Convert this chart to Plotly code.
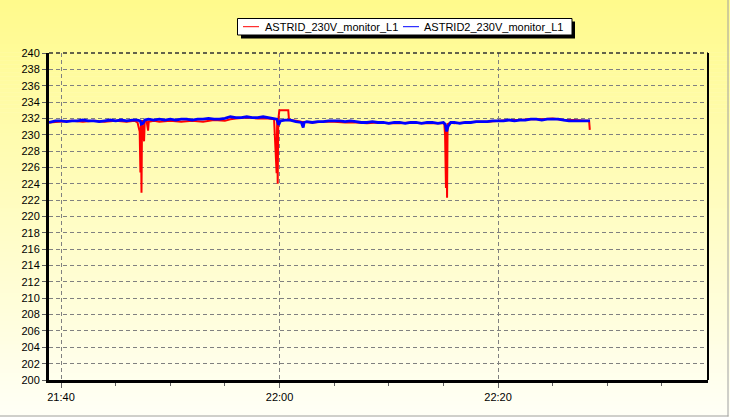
import plotly.graph_objects as go

DATE = "2013-05-10 "

# ASTRID_230V_monitor_L1 (red)
red_times = ["21:38:54", "21:40:00", "21:41:00", "21:42:00", "21:43:00", "21:44:00", "21:45:00", "21:46:00",
             "21:46:45", "21:47:00", "21:47:08", "21:47:12", "21:47:16", "21:47:19", "21:47:22", "21:47:25",
             "21:47:36", "21:47:40", "21:47:50", "21:47:58", "21:48:02", "21:48:30", "21:49:00", "21:50:00",
             "21:51:00", "21:52:00", "21:53:00", "21:54:00", "21:55:00", "21:55:30", "21:56:00", "21:57:00",
             "21:58:00", "21:59:00", "21:59:30", "21:59:44", "21:59:47", "21:59:50", "21:59:53", "21:59:59",
             "22:00:48", "22:00:52", "22:01:30", "22:02:00", "22:03:00", "22:04:00", "22:05:00", "22:06:00",
             "22:07:00", "22:08:00", "22:09:00", "22:10:00", "22:11:00", "22:12:00", "22:13:00", "22:14:00",
             "22:15:00", "22:15:05", "22:15:09", "22:15:14", "22:15:17", "22:15:20", "22:15:23", "22:15:40",
             "22:16:00", "22:17:00", "22:18:00", "22:19:00", "22:20:00", "22:21:00", "22:22:00", "22:23:00",
             "22:24:00", "22:25:00", "22:26:00", "22:27:00", "22:28:00", "22:28:20", "22:28:24"]
red_values = [231.5, 231.6, 231.7, 231.6, 231.7, 231.6, 231.7, 231.6,
              231.7, 231.5, 230.7, 230.4, 225.4, 231.2, 222.9, 231.8,
              229.2, 231.7, 231.7, 230.5, 231.6, 231.7, 231.6, 231.7,
              231.6, 231.7, 231.6, 231.8, 231.7, 231.9, 232.0, 232.1,
              232.0, 232.0, 231.9, 225.3, 231.9, 224.0, 231.8, 233.0,
              233.0, 231.8, 231.7, 231.6, 231.5, 231.6, 231.6, 231.5,
              231.5, 231.4, 231.5, 231.4, 231.4, 231.5, 231.4, 231.4,
              231.4, 231.3, 230.0, 223.5, 231.0, 222.3, 231.3, 231.5,
              231.4, 231.5, 231.6, 231.6, 231.7, 231.8, 231.8, 231.9,
              231.9, 232.0, 231.8, 231.8, 231.7, 231.7, 230.6]

# ASTRID2_230V_monitor_L1 (blue)
blue_times = ["21:38:54", "21:39:15", "21:39:30", "21:40:00", "21:40:30", "21:41:00", "21:41:30", "21:42:00",
              "21:42:30", "21:43:00", "21:43:30", "21:44:00", "21:44:30", "21:45:00", "21:45:30", "21:46:00",
              "21:46:30", "21:47:00", "21:47:15", "21:47:20", "21:47:30", "21:47:40", "21:48:00", "21:48:30",
              "21:49:00", "21:49:30", "21:50:00", "21:50:30", "21:51:00", "21:51:30", "21:52:00", "21:52:30",
              "21:53:00", "21:53:30", "21:54:00", "21:54:30", "21:55:00", "21:55:30", "21:56:00", "21:56:30",
              "21:57:00", "21:57:30", "21:58:00", "21:58:30", "21:59:00", "21:59:30", "21:59:45", "21:59:55",
              "22:00:05", "22:00:30", "22:01:00", "22:01:30", "22:02:00", "22:02:10", "22:02:15", "22:02:30",
              "22:03:00", "22:03:30", "22:04:00", "22:04:30", "22:05:00", "22:05:30", "22:06:00", "22:06:30",
              "22:07:00", "22:07:30", "22:08:00", "22:08:30", "22:09:00", "22:09:30", "22:10:00", "22:10:30",
              "22:11:00", "22:11:30", "22:12:00", "22:12:30", "22:13:00", "22:13:30", "22:14:00", "22:14:30",
              "22:15:00", "22:15:10", "22:15:18", "22:15:25", "22:15:40", "22:16:00", "22:16:30", "22:17:00",
              "22:17:30", "22:18:00", "22:18:30", "22:19:00", "22:19:30", "22:20:00", "22:20:30", "22:21:00",
              "22:21:30", "22:22:00", "22:22:30", "22:23:00", "22:23:30", "22:24:00", "22:24:30", "22:25:00",
              "22:25:30", "22:26:00", "22:26:30", "22:27:00", "22:27:30", "22:28:00", "22:28:25"]
blue_values = [231.5, 231.6, 231.7, 231.7, 231.6, 231.7, 231.7, 231.8,
               231.7, 231.7, 231.6, 231.7, 231.8, 231.7, 231.8, 231.7,
               231.8, 231.8, 231.7, 231.3, 231.4, 231.8, 231.9, 231.8,
               231.9, 231.8, 231.9, 231.8, 231.9, 231.9, 231.8, 231.9,
               231.9, 232.0, 231.9, 231.9, 232.0, 232.2, 232.1, 232.1,
               232.2, 232.1, 232.1, 232.2, 232.1, 232.0, 231.9, 231.2,
               231.7, 231.8, 231.8, 231.6, 231.5, 230.9, 231.5, 231.6,
               231.5, 231.6, 231.6, 231.7, 231.7, 231.7, 231.6, 231.7,
               231.6, 231.5, 231.5, 231.6, 231.5, 231.5, 231.4, 231.5,
               231.5, 231.4, 231.5, 231.5, 231.4, 231.5, 231.5, 231.4,
               231.5, 231.3, 230.4, 231.0, 231.5, 231.5, 231.4, 231.5,
               231.5, 231.6, 231.6, 231.6, 231.7, 231.7, 231.7, 231.8,
               231.7, 231.8, 231.8, 231.9, 231.9, 231.8, 231.9, 231.9,
               231.9, 231.8, 231.7, 231.7, 231.7, 231.7, 231.7]

series_names = ["ASTRID_230V_monitor_L1", "ASTRID2_230V_monitor_L1"]
series_colors = ["#FF0000", "#0000FF"]

X_RANGE = [DATE + "21:38:54", DATE + "22:39:13"]
Y_RANGE = [200, 240]

W, H = 730, 417
L, R, T, B = 49, 22, 53, 37
PW, PH = W - L - R, H - T - B


def px(x):
    return (x - L) / PW


def py(y):
    return (H - B - y) / PH


fig = go.Figure()
fig.add_trace(go.Scatter(x=[DATE + t for t in red_times], y=red_values, mode="lines",
                         line=dict(color=series_colors[0], width=2), name=series_names[0],
                         showlegend=False))
fig.add_trace(go.Scatter(x=[DATE + t for t in blue_times], y=blue_values, mode="lines",
                         line=dict(color=series_colors[1], width=2.8), name=series_names[1],
                         showlegend=False))

shapes = []
# background gradient (yellow top -> near white bottom)
n = 104
top_c = (255, 250, 140)
bot_c = (255, 255, 246)
for i in range(n):
    y0 = i * H / n
    y1 = (i + 1) * H / n + 0.6
    f = i / (n - 1)
    c = tuple(round(top_c[k] + (bot_c[k] - top_c[k]) * f) for k in range(3))
    shapes.append(dict(type="rect", xref="paper", yref="paper", layer="below",
                       x0=px(0), x1=px(W), y0=py(y1), y1=py(y0),
                       fillcolor="rgb(%d,%d,%d)" % c, line=dict(width=0)))
# outer frame
shapes.append(dict(type="line", xref="paper", yref="paper", x0=px(728), x1=px(728), y0=py(0), y1=py(416.5),
                   line=dict(color="#A0A0A0", width=1)))
shapes.append(dict(type="line", xref="paper", yref="paper", x0=px(0), x1=px(728.5), y0=py(416), y1=py(416),
                   line=dict(color="#A0A0A0", width=1)))
# top dashed and right border of the plot area
shapes.append(dict(type="line", xref="paper", yref="paper", x0=0, x1=1, y0=1, y1=1,
                   line=dict(color="#303030", width=1.5, dash="4px,3px")))
shapes.append(dict(type="line", xref="paper", yref="paper", x0=1, x1=1, y0=0, y1=1,
                   line=dict(color="black", width=2)))
# legend box with shadow
shapes.append(dict(type="rect", xref="paper", yref="paper", x0=px(241), x1=px(575), y0=py(38.5), y1=py(21.5),
                   fillcolor="black", line=dict(width=0)))
shapes.append(dict(type="rect", xref="paper", yref="paper", x0=px(237.5), x1=px(572), y0=py(35), y1=py(18.5),
                   fillcolor="white", line=dict(color="black", width=1)))
legend_line_x = [(243, 259), (403, 419)]
legend_text_x = [263, 422]
annotations = []
for i in range(2):
    x0, x1 = legend_line_x[i]
    shapes.append(dict(type="line", xref="paper", yref="paper", x0=px(x0), x1=px(x1), y0=py(26.7), y1=py(26.7),
                       line=dict(color=series_colors[i], width=1)))
    annotations.append(dict(text=series_names[i], xref="paper", yref="paper", x=px(legend_text_x[i]),
                            y=py(26.7), xanchor="left", yanchor="middle", showarrow=False,
                            font=dict(family="Liberation Sans, Arial", size=11, color="black")))

grid_dash = "4px,3px"
fig.update_layout(
    width=W, height=H, autosize=False,
    margin=dict(l=L, r=R, t=T, b=B, pad=0),
    paper_bgcolor="white", plot_bgcolor="rgba(0,0,0,0)",
    font=dict(family="Liberation Sans, Arial", size=11, color="black"),
    shapes=shapes, annotations=annotations, showlegend=False, hovermode=False,
    xaxis=dict(type="date", range=X_RANGE, tickformat="%H:%M", tick0=DATE + "21:40:00",
               dtick=20 * 60 * 1000, ticks="outside", ticklen=5, tickcolor="#606060", tickwidth=1,
               showgrid=True, gridcolor="#808080", griddash=grid_dash, gridwidth=1,
               showline=True, linecolor="black", linewidth=3, zeroline=False,
               minor=dict(dtick=5 * 60 * 1000, tick0=DATE + "21:40:00", ticks="outside", ticklen=3,
                          tickcolor="#606060", showgrid=False),
               tickfont=dict(size=11, color="black")),
    yaxis=dict(range=Y_RANGE, dtick=2, tick0=200, ticks="outside", ticklen=4, tickcolor="#606060",
               showgrid=True, gridcolor="#808080", griddash=grid_dash, gridwidth=1,
               showline=True, linecolor="black", linewidth=3, zeroline=False,
               tickfont=dict(size=11, color="black")),
)

fig.write_html("out.html", config={"displayModeBar": False},
               post_script="document.body.style.margin='0px';document.body.style.overflow='hidden';")
